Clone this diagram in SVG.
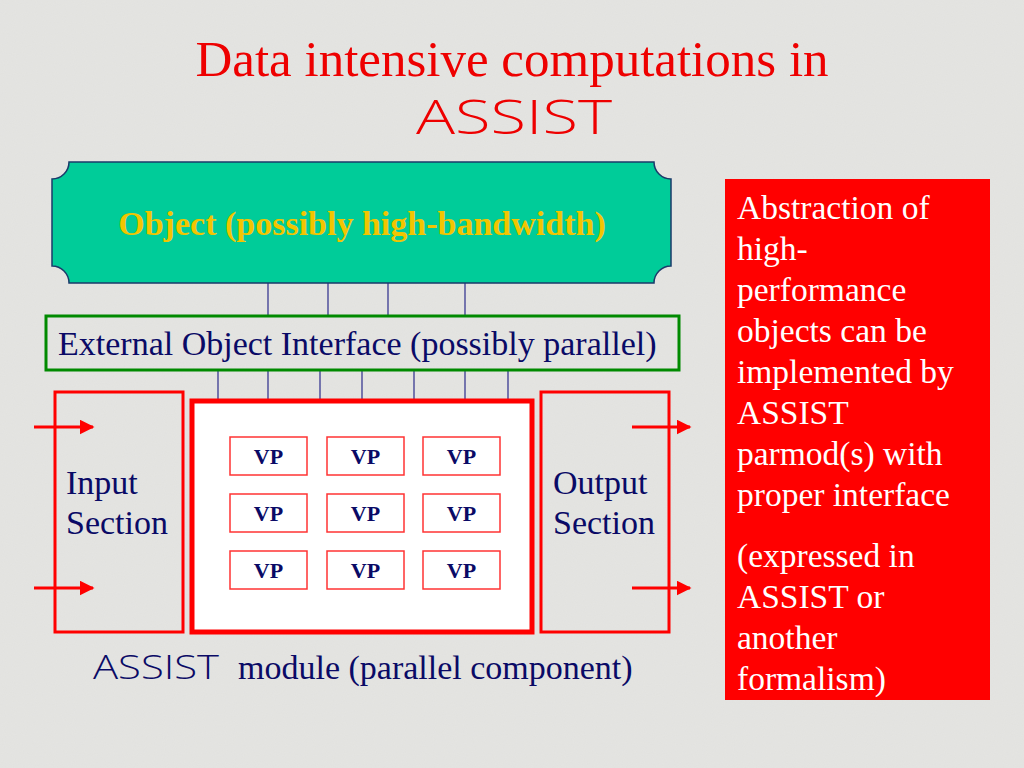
<svg xmlns="http://www.w3.org/2000/svg" width="1024" height="768" viewBox="0 0 1024 768">
<defs>
<filter id="tex" x="0" y="0" width="100%" height="100%">
<feTurbulence type="fractalNoise" baseFrequency="0.9" numOctaves="2" seed="3" result="n"/>
<feColorMatrix type="matrix" values="0 0 0 0 0.80  0 0 0 0 0.80  0 0 0 0 0.79  0 0 0 0.6 -0.1" in="n" result="c"/>
</filter>
<marker id="arr" viewBox="0 0 10 10" refX="9" refY="5" markerWidth="5" markerHeight="5" orient="auto" markerUnits="strokeWidth">
<path d="M0,0 L10,5 L0,10 Z" fill="#ff0000"/>
</marker>
<style>
.serif{font-family:"Liberation Serif","Times New Roman",serif;}
.sans{font-family:"Open Sans","DejaVu Sans","Liberation Sans",Arial,sans-serif;font-weight:300;}
.navy{fill:#0a0a66;}
.lbl{font-size:34px;}
.link{stroke:#2a2a8a;stroke-width:1.2;fill:none;}
.sec{fill:none;stroke:#ff0000;stroke-width:3;}
.vp rect{fill:#ffffff;stroke:#ff3333;stroke-width:1.5;}
.vp text{font-family:"Liberation Serif","Times New Roman",serif;font-weight:bold;font-size:22px;fill:#0a0a66;text-anchor:middle;}
.arrow{stroke:#ff0000;stroke-width:3;marker-end:url(#arr);}
.note{font-family:"Liberation Serif","Times New Roman",serif;font-size:33.5px;fill:#ffffff;}
</style>
</defs>
<rect width="1024" height="768" fill="#e2e2df"/>
<rect width="1024" height="768" filter="url(#tex)"/>

<g id="title">
<text class="serif" x="512" y="76" font-size="51" fill="#ee0000" text-anchor="middle">Data intensive computations in</text>
<text class="sans" x="416" y="134" font-size="47" fill="#ee0000" textLength="196" lengthAdjust="spacingAndGlyphs">ASSIST</text>
</g>

<g id="connectors">
<line class="link" x1="268" y1="256" x2="268" y2="317"/>
<line class="link" x1="328" y1="256" x2="328" y2="317"/>
<line class="link" x1="388" y1="256" x2="388" y2="317"/>
<line class="link" x1="465" y1="256" x2="465" y2="317"/>
<line class="link" x1="218" y1="370" x2="218" y2="434"/>
<line class="link" x1="268" y1="370" x2="268" y2="437"/>
<line class="link" x1="320" y1="370" x2="320" y2="434"/>
<line class="link" x1="362" y1="370" x2="362" y2="437"/>
<line class="link" x1="414" y1="370" x2="414" y2="434"/>
<line class="link" x1="465" y1="370" x2="465" y2="437"/>
<line class="link" x1="508" y1="370" x2="508" y2="434"/>
<line class="arrow" x1="34" y1="427" x2="93" y2="427"/>
<line class="arrow" x1="34" y1="588" x2="93" y2="588"/>
<line class="arrow" x1="632" y1="427" x2="690" y2="427"/>
<line class="arrow" x1="632" y1="588" x2="690" y2="588"/>
</g>

<g id="object">
<path d="M69 162 L654 162 A17 17 0 0 0 671 179 L671 266 A17 17 0 0 0 654 283 L69 283 A17 17 0 0 0 52 266 L52 179 A17 17 0 0 0 69 162 Z" fill="#00cc99" stroke="#1a3a6a" stroke-width="1.5"/>
<text class="serif" x="362" y="235" font-size="34" font-weight="bold" fill="#f2c500" text-anchor="middle">Object (possibly high-bandwidth)</text>
</g>

<g id="interface">
<rect x="46" y="316" width="633" height="54" fill="none" stroke="#008a00" stroke-width="3"/>
<text class="serif navy lbl" x="58" y="355">External Object Interface (possibly parallel)</text>
</g>

<g id="input">
<rect class="sec" x="55" y="392" width="128" height="240"/>
<text class="serif navy lbl" x="66" y="494">Input</text>
<text class="serif navy lbl" x="66" y="534">Section</text>
</g>

<g id="module">
<rect x="192" y="401" width="340" height="231" fill="#ffffff" stroke="#ff0000" stroke-width="5"/>
</g>

<g id="output">
<rect class="sec" x="541" y="392" width="128" height="240"/>
<text class="serif navy lbl" x="553" y="494">Output</text>
<text class="serif navy lbl" x="553" y="534">Section</text>
</g>

<g id="vp11" class="vp"><rect x="230" y="437" width="77" height="38"/><text x="268.5" y="464">VP</text></g>
<g id="vp12" class="vp"><rect x="327" y="437" width="77" height="38"/><text x="365.5" y="464">VP</text></g>
<g id="vp13" class="vp"><rect x="423" y="437" width="77" height="38"/><text x="461.5" y="464">VP</text></g>
<g id="vp21" class="vp"><rect x="230" y="494" width="77" height="38"/><text x="268.5" y="521">VP</text></g>
<g id="vp22" class="vp"><rect x="327" y="494" width="77" height="38"/><text x="365.5" y="521">VP</text></g>
<g id="vp23" class="vp"><rect x="423" y="494" width="77" height="38"/><text x="461.5" y="521">VP</text></g>
<g id="vp31" class="vp"><rect x="230" y="551" width="77" height="38"/><text x="268.5" y="578">VP</text></g>
<g id="vp32" class="vp"><rect x="327" y="551" width="77" height="38"/><text x="365.5" y="578">VP</text></g>
<g id="vp33" class="vp"><rect x="423" y="551" width="77" height="38"/><text x="461.5" y="578">VP</text></g>

<g id="module-label">
<text y="679" class="navy"><tspan class="sans" x="93" font-size="33" textLength="126" lengthAdjust="spacingAndGlyphs">ASSIST</tspan><tspan class="serif" x="238" font-size="34">module (parallel component)</tspan></text>
</g>

<g id="note">
<rect x="725" y="179" width="265" height="521" fill="#ff0000"/>
<text class="note" x="737" y="219">Abstraction of</text>
<text class="note" x="737" y="260">high-</text>
<text class="note" x="737" y="301">performance</text>
<text class="note" x="737" y="342">objects can be</text>
<text class="note" x="737" y="383">implemented by</text>
<text class="note" x="737" y="424">ASSIST</text>
<text class="note" x="737" y="465">parmod(s) with</text>
<text class="note" x="737" y="506">proper interface</text>
<text class="note" x="737" y="567">(expressed in</text>
<text class="note" x="737" y="608">ASSIST or</text>
<text class="note" x="737" y="649">another</text>
<text class="note" x="737" y="690">formalism)</text>
</g>
</svg>
